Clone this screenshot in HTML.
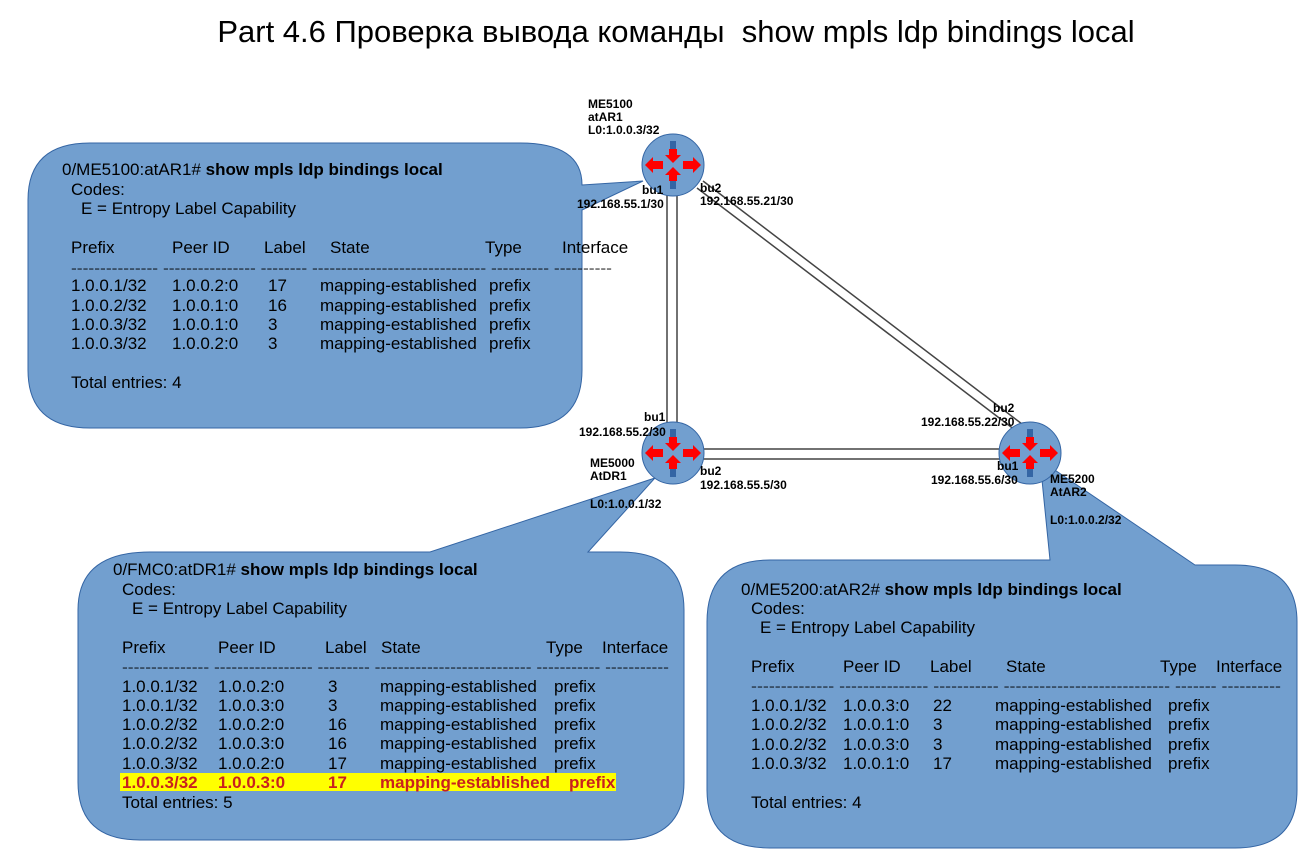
<!DOCTYPE html>
<html><head><meta charset="utf-8"><style>
html,body{margin:0;padding:0;background:#fff;}
svg{display:block;font-family:"Liberation Sans",Arial,sans-serif;}
.t{font-size:17px;fill:#000;}
.s{font-size:12px;font-weight:bold;fill:#000;}
.b{font-weight:bold;}
.r{font-size:17px;font-weight:bold;fill:#c9211e;}
</style></head><body>
<svg width="1315" height="860" viewBox="0 0 1315 860">
<defs>
<g id="rt">
<circle cx="0" cy="0" r="31" fill="#729fcf" stroke="#3465a4" stroke-width="1"/>
<rect x="-3" y="-24" width="6" height="10" fill="#3465a4"/>
<polygon points="-4,-16 4,-16 4,-10 8,-10 0,-2 -8,-10 -4,-10" fill="#ff0000"/>
<rect x="-3" y="14" width="6" height="10" fill="#3465a4"/>
<polygon points="-4,16 4,16 4,10 8,10 0,2 -8,10 -4,10" fill="#ff0000"/>
<rect x="-24" y="-3" width="10" height="6" fill="#3465a4"/>
<polygon points="-10,-4 -10,4 -20,4 -20,8 -28,0 -20,-8 -20,-4" fill="#ff0000"/>
<rect x="14" y="-3" width="10" height="6" fill="#3465a4"/>
<polygon points="10,-4 10,4 20,4 20,8 28,0 20,-8 20,-4" fill="#ff0000"/>
</g>
</defs>
<text x="676" y="42" font-size="31" text-anchor="middle" xml:space="preserve">Part 4.6 Проверка вывода команды&#160; show mpls ldp bindings local</text>

<g stroke="#444" stroke-width="1.5">
<line x1="667" y1="195" x2="667" y2="425"/><line x1="677" y1="195" x2="677" y2="425"/>
<line x1="697" y1="188" x2="1015" y2="430"/><line x1="703" y1="181" x2="1022" y2="424"/>
<line x1="703" y1="449" x2="1000" y2="449"/><line x1="703" y1="459" x2="1000" y2="459"/>
</g>

<g fill="#729fcf" stroke="#3465a4" stroke-width="1">
<path d="M90,143 H520 Q582,143 582,185 L643,181 L582,210 V370 Q582,428 520,428 H90 Q28,428 28,370 V200 Q28,143 90,143 Z"/>
<path d="M150,552 H430 L655,478 L588,552 H620 Q684,552 684,610 V782 Q684,840 620,840 H140 Q78,840 78,782 V610 Q78,552 150,552 Z"/>
<path d="M770,560 H1050 L1040,460 L1195,565 H1235 Q1297,565 1297,622 V790 Q1297,848 1235,848 H770 Q707,848 707,790 V622 Q707,560 770,560 Z"/>
</g>

<use href="#rt" x="673" y="165"/>
<use href="#rt" x="673" y="453"/>
<use href="#rt" x="1030" y="453"/>

<text class="s" x="588" y="108">ME5100</text>
<text class="s" x="588" y="121">atAR1</text>
<text class="s" x="588" y="134">L0:1.0.0.3/32</text>
<text class="s" x="642" y="194">bu1</text>
<text class="s" x="577" y="208">192.168.55.1/30</text>
<text class="s" x="700" y="192">bu2</text>
<text class="s" x="700" y="205">192.168.55.21/30</text>
<text class="s" x="644" y="421">bu1</text>
<text class="s" x="579" y="436">192.168.55.2/30</text>
<text class="s" x="590" y="467">ME5000</text>
<text class="s" x="590" y="480">AtDR1</text>
<text class="s" x="700" y="475">bu2</text>
<text class="s" x="700" y="489">192.168.55.5/30</text>
<text class="s" x="590" y="508">L0:1.0.0.1/32</text>
<text class="s" x="993" y="412">bu2</text>
<text class="s" x="921" y="426">192.168.55.22/30</text>
<text class="s" x="997" y="470">bu1</text>
<text class="s" x="931" y="484">192.168.55.6/30</text>
<text class="s" x="1050" y="483">ME5200</text>
<text class="s" x="1050" y="496">AtAR2</text>
<text class="s" x="1050" y="524">L0:1.0.0.2/32</text>

<g class="t">
<text x="62" y="175">0/ME5100:atAR1# <tspan class="b">show mpls ldp bindings local</tspan></text>
<text x="71" y="195">Codes:</text>
<text x="81" y="214">E = Entropy Label Capability</text>
<text x="71" y="253">Prefix</text><text x="172" y="253">Peer ID</text><text x="264" y="253">Label</text><text x="330" y="253">State</text><text x="485" y="253">Type</text><text x="562" y="253">Interface</text>
<text x="71" y="272" font-size="12" textLength="541" lengthAdjust="spacingAndGlyphs">--------------- ---------------- -------- ------------------------------ ---------- ----------</text>
<text x="71" y="291">1.0.0.1/32</text><text x="172" y="291">1.0.0.2:0</text><text x="268" y="291">17</text><text x="320" y="291">mapping-established</text><text x="489" y="291">prefix</text>
<text x="71" y="311">1.0.0.2/32</text><text x="172" y="311">1.0.0.1:0</text><text x="268" y="311">16</text><text x="320" y="311">mapping-established</text><text x="489" y="311">prefix</text>
<text x="71" y="330">1.0.0.3/32</text><text x="172" y="330">1.0.0.1:0</text><text x="268" y="330">3</text><text x="320" y="330">mapping-established</text><text x="489" y="330">prefix</text>
<text x="71" y="349">1.0.0.3/32</text><text x="172" y="349">1.0.0.2:0</text><text x="268" y="349">3</text><text x="320" y="349">mapping-established</text><text x="489" y="349">prefix</text>
<text x="71" y="388">Total entries: 4</text>
</g>

<g class="t">
<text x="113" y="575">0/FMC0:atDR1# <tspan class="b">show mpls ldp bindings local</tspan></text>
<text x="122" y="595">Codes:</text>
<text x="132" y="614">E = Entropy Label Capability</text>
<text x="122" y="653">Prefix</text><text x="218" y="653">Peer ID</text><text x="325" y="653">Label</text><text x="381" y="653">State</text><text x="546" y="653">Type</text><text x="602" y="653">Interface</text>
<text x="122" y="671" font-size="12" textLength="547" lengthAdjust="spacingAndGlyphs">--------------- ----------------- --------- --------------------------- ----------- -----------</text>
<text x="122" y="692">1.0.0.1/32</text><text x="218" y="692">1.0.0.2:0</text><text x="328" y="692">3</text><text x="380" y="692">mapping-established</text><text x="554" y="692">prefix</text>
<text x="122" y="711">1.0.0.1/32</text><text x="218" y="711">1.0.0.3:0</text><text x="328" y="711">3</text><text x="380" y="711">mapping-established</text><text x="554" y="711">prefix</text>
<text x="122" y="730">1.0.0.2/32</text><text x="218" y="730">1.0.0.2:0</text><text x="328" y="730">16</text><text x="380" y="730">mapping-established</text><text x="554" y="730">prefix</text>
<text x="122" y="749">1.0.0.2/32</text><text x="218" y="749">1.0.0.3:0</text><text x="328" y="749">16</text><text x="380" y="749">mapping-established</text><text x="554" y="749">prefix</text>
<text x="122" y="769">1.0.0.3/32</text><text x="218" y="769">1.0.0.2:0</text><text x="328" y="769">17</text><text x="380" y="769">mapping-established</text><text x="554" y="769">prefix</text>
</g>
<rect x="120" y="773" width="496" height="18" fill="#ffff00"/>
<g class="r">
<text x="122" y="788">1.0.0.3/32</text><text x="218" y="788">1.0.0.3:0</text><text x="328" y="788">17</text><text x="380" y="788">mapping-established</text><text x="569" y="788">prefix</text>
</g>
<text class="t" x="122" y="808">Total entries: 5</text>

<g class="t">
<text x="741" y="595">0/ME5200:atAR2# <tspan class="b">show mpls ldp bindings local</tspan></text>
<text x="751" y="614">Codes:</text>
<text x="760" y="633">E = Entropy Label Capability</text>
<text x="751" y="672">Prefix</text><text x="843" y="672">Peer ID</text><text x="930" y="672">Label</text><text x="1006" y="672">State</text><text x="1160" y="672">Type</text><text x="1216" y="672">Interface</text>
<text x="751" y="690" font-size="12" textLength="530" lengthAdjust="spacingAndGlyphs">-------------- --------------- ----------- ---------------------------- ------- ----------</text>
<text x="751" y="711">1.0.0.1/32</text><text x="843" y="711">1.0.0.3:0</text><text x="933" y="711">22</text><text x="995" y="711">mapping-established</text><text x="1168" y="711">prefix</text>
<text x="751" y="730">1.0.0.2/32</text><text x="843" y="730">1.0.0.1:0</text><text x="933" y="730">3</text><text x="995" y="730">mapping-established</text><text x="1168" y="730">prefix</text>
<text x="751" y="750">1.0.0.2/32</text><text x="843" y="750">1.0.0.3:0</text><text x="933" y="750">3</text><text x="995" y="750">mapping-established</text><text x="1168" y="750">prefix</text>
<text x="751" y="769">1.0.0.3/32</text><text x="843" y="769">1.0.0.1:0</text><text x="933" y="769">17</text><text x="995" y="769">mapping-established</text><text x="1168" y="769">prefix</text>
<text x="751" y="808">Total entries: 4</text>
</g>
</svg>
</body></html>
